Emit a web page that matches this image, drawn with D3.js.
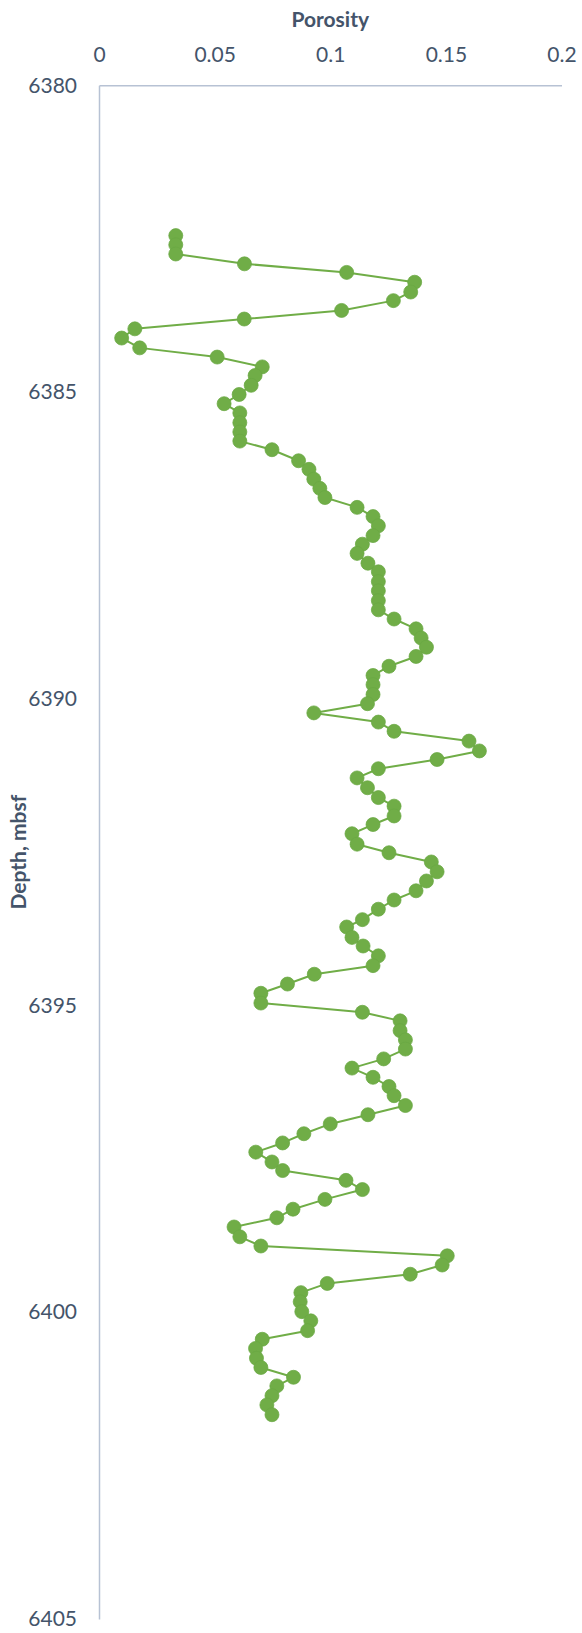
<!DOCTYPE html>
<html>
<head>
<meta charset="utf-8">
<script src="https://cdn.jsdelivr.net/npm/d3@7/dist/d3.min.js"></script>
<style>
  html, body { margin: 0; padding: 0; background: #ffffff; }
  svg { display: block; }
  text { font-family: Lato, "Open Sans", "Liberation Sans", sans-serif; fill: #44546A; }
</style>
</head>
<body>
<svg id="chart" width="582" height="1633"></svg>
<script>
// Porosity log against depth (metres below sea floor)
const depths = [
  6382.45, 6382.60, 6382.75, 6382.91, 6383.05, 6383.21, 6383.37, 6383.51, 6383.67, 6383.81,
  6383.97, 6384.12, 6384.28, 6384.43, 6384.59, 6384.73, 6384.89, 6385.04, 6385.19, 6385.34,
  6385.50, 6385.65, 6385.80, 6385.94, 6386.12, 6386.26, 6386.42, 6386.57, 6386.72, 6386.88,
  6387.03, 6387.18, 6387.34, 6387.48, 6387.63, 6387.79, 6387.93, 6388.09, 6388.24, 6388.40,
  6388.55, 6388.70, 6388.86, 6389.01, 6389.16, 6389.31, 6389.47, 6389.62, 6389.77, 6389.93,
  6390.08, 6390.23, 6390.38, 6390.53, 6390.69, 6390.85, 6390.99, 6391.14, 6391.29, 6391.45,
  6391.61, 6391.75, 6391.91, 6392.05, 6392.20, 6392.37, 6392.51, 6392.66, 6392.82, 6392.97,
  6393.13, 6393.28, 6393.43, 6393.60, 6393.72, 6393.89, 6394.03, 6394.19, 6394.35, 6394.49,
  6394.65, 6394.80, 6394.96, 6395.11, 6395.25, 6395.41, 6395.56, 6395.71, 6395.87, 6396.02,
  6396.17, 6396.32, 6396.47, 6396.63, 6396.78, 6396.93, 6397.09, 6397.24, 6397.39, 6397.55,
  6397.69, 6397.85, 6398.00, 6398.16, 6398.32, 6398.46, 6398.61, 6398.77, 6398.92, 6399.08,
  6399.23, 6399.38, 6399.53, 6399.68, 6399.83, 6399.99, 6400.14, 6400.30, 6400.44, 6400.59,
  6400.75, 6400.90, 6401.06, 6401.20, 6401.36, 6401.51, 6401.67
];

const porosity = [
  0.0332, 0.0332, 0.0332, 0.0629, 0.1071, 0.1365, 0.1348, 0.1273, 0.1049, 0.0628,
  0.0155, 0.0098, 0.0176, 0.0511, 0.0706, 0.0675, 0.0658, 0.0606, 0.0541, 0.0609,
  0.0609, 0.0609, 0.0609, 0.0748, 0.0863, 0.0908, 0.0929, 0.0955, 0.0977, 0.1116,
  0.1185, 0.1208, 0.1185, 0.1139, 0.1116, 0.1163, 0.1208, 0.1208, 0.1208, 0.1208,
  0.1208, 0.1276, 0.1371, 0.1393, 0.1416, 0.1371, 0.1254, 0.1185, 0.1185, 0.1185,
  0.1161, 0.0929, 0.1208, 0.1276, 0.1600, 0.1645, 0.1462, 0.1208, 0.1116, 0.1161,
  0.1208, 0.1276, 0.1276, 0.1185, 0.1094, 0.1116, 0.1254, 0.1437, 0.1462, 0.1416,
  0.1371, 0.1276, 0.1208, 0.1139, 0.1071, 0.1094, 0.1142, 0.1208, 0.1185, 0.0931,
  0.0815, 0.0700, 0.0700, 0.1139, 0.1302, 0.1302, 0.1325, 0.1325, 0.1231, 0.1094,
  0.1185, 0.1254, 0.1276, 0.1325, 0.1163, 0.1000, 0.0886, 0.0794, 0.0678, 0.0748,
  0.0794, 0.1068, 0.1139, 0.0977, 0.0839, 0.0769, 0.0584, 0.0609, 0.0700, 0.1506,
  0.1484, 0.1346, 0.0987, 0.0873, 0.0870, 0.0877, 0.0916, 0.0902, 0.0706, 0.0677,
  0.0681, 0.0700, 0.0841, 0.0769, 0.0748, 0.0726, 0.0748
];

const xTicks = [0, 0.05, 0.1, 0.15, 0.2];
const xTickLabels = ["0", "0.05", "0.1", "0.15", "0.2"];
const yTicks = [6380, 6385, 6390, 6395, 6400, 6405];
const yTickLabels = ["6380", "6385", "6390", "6395", "6400", "6405"];

const xTitle = "Porosity";
const yTitle = "Depth, mbsf";

const points = depths.map((d, i) => ({ depth: d, phi: porosity[i] }));

const svg = d3.select("#chart");
const plot = { left: 99, right: 561.5, top: 85.3, bottom: 1619 };

const x = d3.scaleLinear().domain([0, 0.2]).range([plot.left, plot.right]);
const y = d3.scaleLinear().domain([6380, 6405]).range([plot.top, plot.bottom]);

const axisColor = "#B7C2D4";
const green = "#70AD47";

// Top porosity axis
const xAxis = d3.axisTop(x)
  .tickValues(xTicks)
  .tickFormat((d, i) => xTickLabels[i])
  .tickSize(0)
  .tickPadding(23);

const gx = svg.append("g")
  .attr("transform", `translate(0,${plot.top})`)
  .call(xAxis);
gx.select(".domain").attr("stroke", axisColor).attr("stroke-width", 1.5);
gx.selectAll("text")
  .attr("font-size", 21)
  .attr("fill", "#44546A")
  .style("font-family", "Lato, 'Open Sans', sans-serif");

// Left depth axis
const yAxis = d3.axisLeft(y)
  .tickValues(yTicks)
  .tickFormat((d, i) => yTickLabels[i])
  .tickSize(0)
  .tickPadding(22);

const gy = svg.append("g")
  .attr("transform", `translate(${plot.left},0)`)
  .call(yAxis);
gy.select(".domain").attr("stroke", axisColor).attr("stroke-width", 1.5);
gy.selectAll("text")
  .attr("font-size", 21)
  .attr("fill", "#44546A")
  .style("font-family", "Lato, 'Open Sans', sans-serif");

// Axis titles
svg.append("text")
  .attr("x", (plot.left + plot.right) / 2)
  .attr("y", 27)
  .attr("text-anchor", "middle")
  .attr("font-size", 21)
  .attr("font-weight", "bold")
  .text(xTitle);

svg.append("text")
  .attr("transform", `translate(26,${(plot.top + plot.bottom) / 2}) rotate(-90)`)
  .attr("text-anchor", "middle")
  .attr("font-size", 21)
  .attr("font-weight", "bold")
  .text(yTitle);

// Porosity trace
const line = d3.line()
  .x(d => x(d.phi))
  .y(d => y(d.depth));

svg.append("path")
  .datum(points)
  .attr("fill", "none")
  .attr("stroke", green)
  .attr("stroke-width", 2)
  .attr("stroke-linejoin", "round")
  .attr("d", line);

svg.append("g")
  .selectAll("circle")
  .data(points)
  .join("circle")
  .attr("cx", d => x(d.phi))
  .attr("cy", d => y(d.depth))
  .attr("r", 7)
  .attr("fill", green)
  .attr("stroke", "#6AA843")
  .attr("stroke-width", 0.75);
</script>
</body>
</html>
